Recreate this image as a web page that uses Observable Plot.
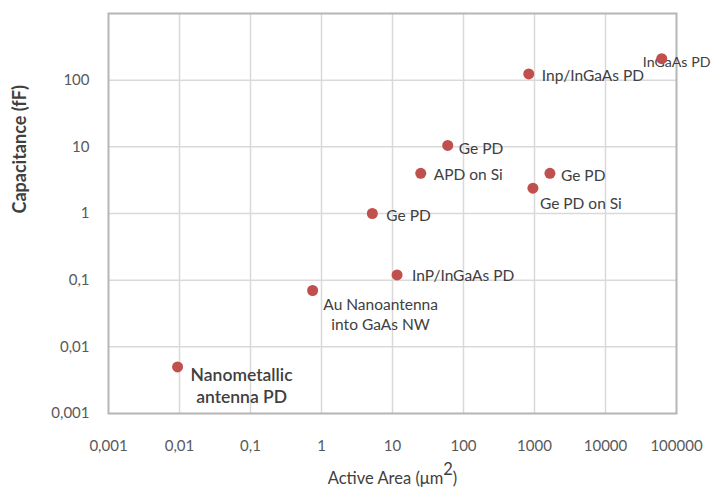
<!DOCTYPE html>
<html>
<head>
<meta charset="utf-8">
<script src="https://cdn.jsdelivr.net/npm/d3@7"></script>
<script src="https://cdn.jsdelivr.net/npm/@observablehq/plot@0.6"></script>
<style>
  html, body { margin: 0; padding: 0; background: #ffffff; }
  #chart svg { display: block; }
</style>
</head>
<body>
<div id="chart"></div>
<script>
// Photodetector capacitance versus active area (log–log)
const names = [
  "Nanometallic\nantenna PD",
  "Au Nanoantenna\ninto GaAs NW",
  "InP/InGaAs PD",
  "Ge PD",
  "APD on Si",
  "Ge PD",
  "Inp/InGaAs PD",
  "Ge PD on Si",
  "Ge PD",
  "InGaAs PD"
];
const areas = [0.0094, 0.75, 11.6, 5.2, 25, 60, 830, 950, 1650, 62000];   // µm²
const caps  = [0.005, 0.07, 0.12, 1.0, 4.0, 10.5, 124, 2.4, 4.0, 210];    // fF

const xTicks = [0.001, 0.01, 0.1, 1, 10, 100, 1000, 10000, 100000];
const yTicks = [0.001, 0.01, 0.1, 1, 10, 100];
const xGrid = [0.01, 0.1, 1, 10, 100, 1000, 10000];
const yGrid = [0.01, 0.1, 1, 10, 100];

const FONT = "Lato";

// label placement relative to each dot
const labelLayout = [
  {dx: 64, dy: 18, anchor: "middle", size: 17.5, lh: 1.26, weight: 600},
  {dx: 68, dy: 23, anchor: "middle", size: 15.5, lh: 1.3},
  {dx: 15, dy: 1, anchor: "start", size: 15.5},
  {dx: 14, dy: 2, anchor: "start", size: 15.5},
  {dx: 13, dy: 1, anchor: "start", size: 15.5},
  {dx: 11, dy: 3, anchor: "start", size: 15.5},
  {dx: 13, dy: 2, anchor: "start", size: 15.5},
  {dx: 7, dy: 15, anchor: "start", size: 15.5},
  {dx: 11, dy: 2, anchor: "start", size: 15.5},
  {dx: -19, dy: 3, anchor: "start", size: 14.2}
];

const points = names.map((name, i) => ({name, area: areas[i], cap: caps[i]}));

const fmt = d => d < 1 ? String(d).replace(".", ",") : String(d);

const labelMarks = points.map((p, i) => {
  const L = labelLayout[i];
  return Plot.text([p], {
    x: "area", y: "cap", text: "name",
    dx: L.dx, dy: L.dy, textAnchor: L.anchor,
    lineHeight: L.lh || 1.1,
    fontSize: L.size,
    fontWeight: L.weight || "normal",
    fontFamily: FONT,
    fill: "#404040"
  });
});

const chart = Plot.plot({
  width: 712,
  height: 497,
  marginLeft: 108,
  marginRight: 36,
  marginTop: 13,
  marginBottom: 84,
  style: {fontFamily: FONT, fontSize: "15px", color: "#595959", background: "#ffffff"},
  x: {type: "log", domain: [0.001, 100000]},
  y: {type: "log", domain: [0.001, 1000]},
  marks: [
    Plot.gridX(xGrid, {stroke: "#d9d9d9", strokeOpacity: 1, strokeWidth: 1.5}),
    Plot.gridY(yGrid, {stroke: "#d9d9d9", strokeOpacity: 1, strokeWidth: 1.5}),
    Plot.frame({stroke: "#b5b5b5", strokeWidth: 2}),
    Plot.axisX({ticks: xTicks, tickSize: 0, tickPadding: 27, tickFormat: fmt, label: null}),
    Plot.axisY({ticks: yTicks, tickSize: 0, tickPadding: 19, tickFormat: fmt, label: null}),
    ...labelMarks,
    Plot.dot(points, {x: "area", y: "cap", r: 5.5, fill: "#c0504d", stroke: "none"}),
    Plot.text(["Capacitance (fF)"], {
      frameAnchor: "left", dx: -88, rotate: -90,
      fontSize: 18, fontWeight: "bold", fontFamily: FONT,
      fill: "#404040"
    }),
    Plot.text(["Active Area (μm²)"], {
      frameAnchor: "bottom", dy: 70,
      fontSize: 16.5, fontFamily: FONT,
      fill: "#404040"
    })
  ]
});

// raise the squared unit as a full-size superscript
d3.select(chart).selectAll("text")
  .filter(function () { return this.textContent === "Active Area (μm²)"; })
  .each(function () {
    const t = d3.select(this);
    t.text(null);
    t.append("tspan").text("Active Area (μm");
    t.append("tspan").attr("dy", "-0.5em").text("2");
    t.append("tspan").attr("dy", "0.5em").text(")");
  });

document.getElementById("chart").appendChild(chart);
</script>
</body>
</html>
